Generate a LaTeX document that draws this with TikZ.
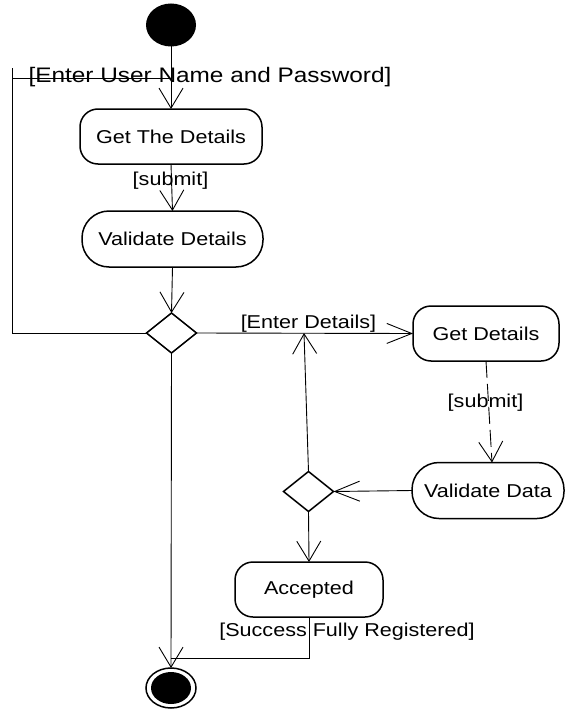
\documentclass[tikz,border=0pt]{standalone}
\usepackage{fontspec}
\setmainfont{Liberation Sans}
\usetikzlibrary{arrows.meta,shapes.geometric}
% horizontally widened lettering
\newcommand{\widetext}[1]{\scalebox{1.16}[1]{#1}}

\begin{document}
\begin{tikzpicture}[x=1pt,y=-1pt,
  every node/.style={inner sep=0pt, outer sep=0pt},
  wire/.style={line width=0.9pt},
  conn/.style={wire, -{Straight Barb[length=20pt,width=24pt,line width=0.9pt]}},
  hconn/.style={wire, -{Straight Barb[length=25pt,width=20pt,line width=0.9pt]}},
  act/.style={draw, line width=1.5pt, rounded corners=18pt,
    minimum height=55pt, font=\fontsize{18.6}{22}\selectfont},
  stadium/.style={act, rounded corners=27pt, minimum height=56pt},
  choice/.style={draw, diamond, line width=1.5pt, minimum width=50pt, minimum height=40pt},
  lab/.style={anchor=base, font=\fontsize{18.6}{22}\selectfont},
]
\useasboundingbox (0,0) rectangle (565,709);

% start and end
\node[ellipse, fill=black, minimum width=50pt, minimum height=43pt] (start) at (171,25) {};
\node[ellipse, draw, line width=1.5pt, minimum width=50pt, minimum height=40pt] (stop) at (171,688) {};
\node[ellipse, fill=black, minimum width=40pt, minimum height=32pt] at (stop) {};

% activities
\node[act, minimum width=182pt] (getthe) at (171,136.5) {\widetext{Get The Details}};
\node[stadium, minimum width=181pt] (valdet) at (172.5,239) {\widetext{Validate Details}};
\node[act, minimum width=146pt] (getdet) at (486,333.5) {\widetext{Get Details}};
\node[stadium, minimum width=152pt] (valdata) at (488,490.5) {\widetext{Validate Data}};
\node[act, minimum width=148pt] (acc) at (309,589.5) {\widetext{Accepted}};

% decisions
\node[choice] (d1) at (171.5,333) {};
\node[choice] (d2) at (308.5,491.5) {};

% helper points on the connectors
\coordinate (join) at (171,78);
\coordinate (loopTop) at (12,68);
\coordinate (loopBot) at (12,333);
\coordinate (loopKnee) at (12,78);
\coordinate (upEnd) at (304,333);
\coordinate (endJoin) at (171,658);

% main flow
\draw[conn] (start.south) -- (getthe.north);
\draw[conn] (getthe.south) -- (valdet.north);
\draw[conn] (valdet.south) -- (d1.north);
\draw[conn] (d1.south) -- (stop.north);

% retry loop
\draw[wire] (d1.west) -- (loopBot) -- (loopTop);
\draw[wire] (loopKnee) -- (join);

% registration branch
\draw[hconn] (d1.east) -- (getdet.west);
\draw[conn, dash pattern=on 17pt off 6pt] (getdet.south) -- ([xshift=4pt]valdata.north);
\draw[hconn] (valdata.west) -- (d2.east);
\draw[conn] (d2.north) -- (upEnd);
\draw[conn] (d2.south) -- (acc.north);
\draw[wire] (acc.south) |- (endJoin);

% guards
\node[anchor=base, font=\fontsize{21}{25}\selectfont] (g1) at (210,82) {\widetext{[Enter User Name and Password]}};
\node[lab] (g2) at (170.5,185) {\widetext{[submit]}};
\node[lab] (g3) at (308.5,328) {\widetext{[Enter Details]}};
\node[lab] (g4) at (485.5,407) {\widetext{[submit]}};
\node[lab] (g5) at (347,636) {\widetext{[Success Fully Registered]}};
\end{tikzpicture}
\end{document}
